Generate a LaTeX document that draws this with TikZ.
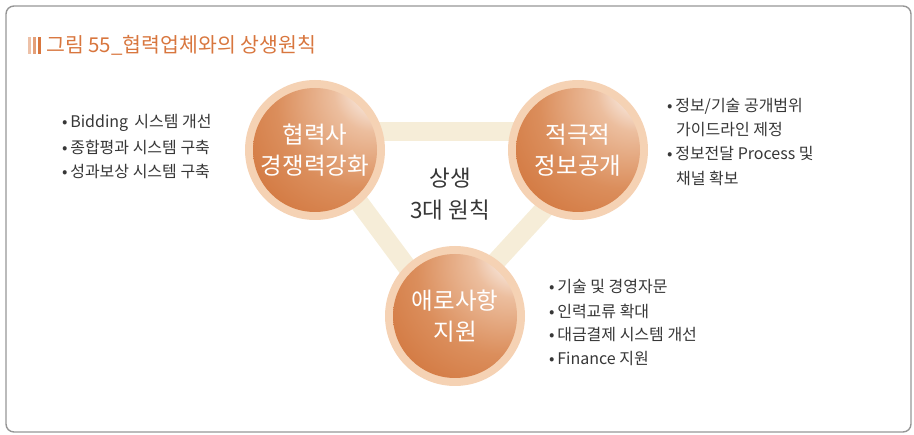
\documentclass[tikz,border=0pt]{standalone}
\usepackage{fontspec}
\setmainfont{Noto Sans CJK KR}
\usetikzlibrary{shapes.geometric}
\definecolor{frame}{RGB}{150,150,150}
\definecolor{titleor}{RGB}{216,118,62}
\definecolor{barbeige}{RGB}{246,237,216}
\definecolor{ringpeach}{RGB}{245,210,180}
\definecolor{orbhi}{RGB}{252,246,243}
\definecolor{orblt}{RGB}{236,190,158}
\definecolor{orbmid}{RGB}{219,142,92}
\definecolor{orbdark}{RGB}{204,104,44}
\definecolor{orbdeep}{RGB}{198,96,36}
\definecolor{txt}{RGB}{55,55,55}
\pgfdeclareradialshading{orb}{\pgfpoint{28bp}{28bp}}{color(0bp)=(orbhi); color(5bp)=(orbhi); color(16bp)=(orblt); color(34bp)=(orbmid); color(60bp)=(orbdark); color(82bp)=(orbdeep); color(100bp)=(orbdeep)}
\tikzset{
  bar/.style={draw=barbeige, line width=19pt},
  orbring/.style={circle, fill=ringpeach, minimum size=140pt, inner sep=0pt},
  orbcore/.style={circle, shading=orb, minimum size=124pt, inner sep=0pt, text=white, font=\fontsize{23.5}{31}\selectfont, align=center},
  listtxt/.style={anchor=west, text=txt, font=\fontsize{16}{24}\selectfont, inner sep=0pt},
  centertxt/.style={text=txt, font=\fontsize{22.5}{32}\selectfont, align=center},
}
\begin{document}
\begin{tikzpicture}[x=1pt,y=-1pt]
\useasboundingbox (0,0) rectangle (914,435);
% frame
\draw[frame, line width=1.4pt, rounded corners=8pt] (6,6) rectangle (911,432);
% title
\fill[titleor!45] (28,37) rectangle (31,54);
\fill[titleor!70] (33,37) rectangle (36,54);
\fill[titleor] (38,37) rectangle (41,54);
\node[anchor=west, text=titleor, font=\fontsize{20.5}{22}\selectfont, inner sep=0pt] (title) at (46,45) {그림 55\_협력업체와의 상생원칙};
% bars
\coordinate (tbL) at (330,132);
\coordinate (tbR) at (560,132);
\coordinate (lbT) at (335,170);
\coordinate (lbB) at (430,298);
\coordinate (rbT) at (580,170);
\coordinate (rbB) at (470,290);
\draw[bar] (tbL) -- (tbR);
\draw[bar] (lbT) -- (lbB);
\draw[bar] (rbT) -- (rbB);
% circles
\node[orbring] (r1) at (315,150) {};
\node[orbcore] (c1) at (315,150) {협력사\\경쟁력강화};
\node[orbring] (r2) at (578,150) {};
\node[orbcore] (c2) at (578,150) {적극적\\정보공개};
\node[orbring] (r3) at (455,316) {};
\node[orbcore] (c3) at (455,316) {애로사항\\지원};
% center
\node[centertxt] (ctr) at (450,194) {상생\\3대 원칙};
% left list
\node[listtxt] (l1) at (62,123) {•\,Bidding\,\ 시스템 개선};
\node[listtxt] (l2) at (62,147) {•\,종합평과 시스템 구축};
\node[listtxt] (l3) at (62,171) {•\,성과보상 시스템 구축};
% right list
\node[listtxt] (r1a) at (667,106) {•\,정보/기술 공개범위};
\node[listtxt] (r1b) at (676,130) {가이드라인 제정};
\node[listtxt] (r2a) at (667,154) {•\,정보전달 Process 및};
\node[listtxt] (r2b) at (676,178) {채널 확보};
% bottom list
\node[listtxt] (b1) at (549,287) {•\,기술 및 경영자문};
\node[listtxt] (b2) at (549,311) {•\,인력교류 확대};
\node[listtxt] (b3) at (549,335) {•\,대금결제 시스템 개선};
\node[listtxt] (b4) at (549,359) {•\,Finance 지원};
\end{tikzpicture}
\end{document}
